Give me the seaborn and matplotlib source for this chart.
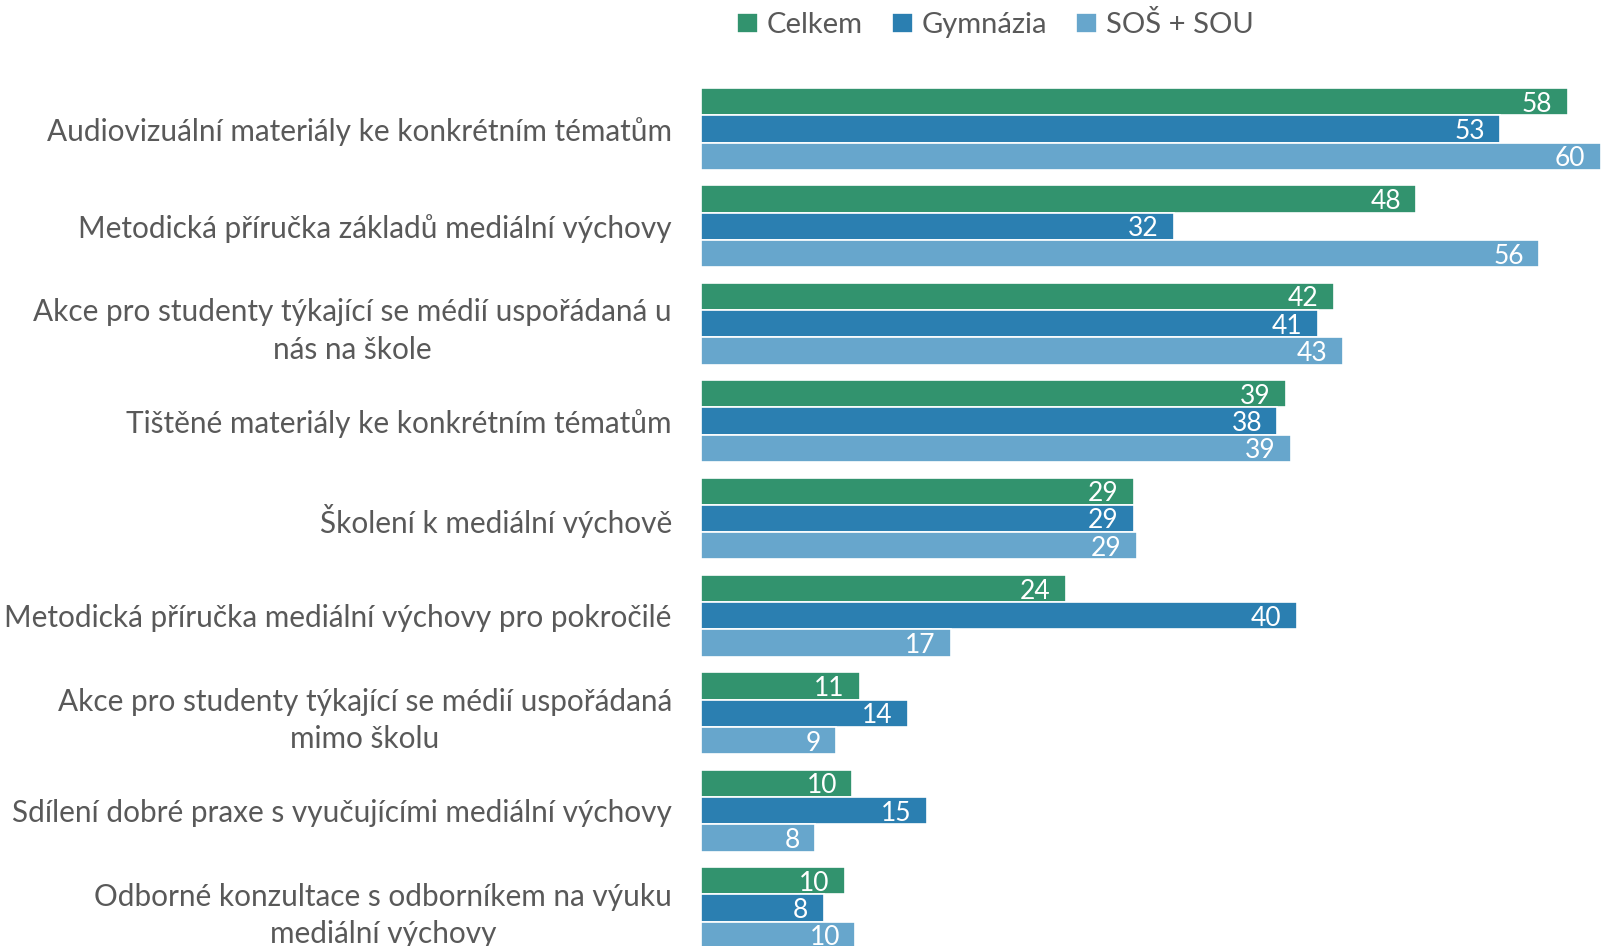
import pandas as pd
from matplotlib import pyplot as plt
import seaborn as sns
import numpy as np

# categories (top to bottom) and values
categories = ['Audiovizuální materiály ke konkrétním tématům',
              'Metodická příručka základů mediální výchovy',
              'Akce pro studenty týkající se médií uspořádaná u\nnás na škole',
              'Tištěné materiály ke konkrétním tématům',
              'Školení k mediální výchově',
              'Metodická příručka mediální výchovy pro pokročilé',
              'Akce pro studenty týkající se médií uspořádaná\nmimo školu',
              'Sdílení dobré praxe s vyučujícími mediální výchovy',
              'Odborné konzultace s odborníkem na výuku\nmediální výchovy']
groups = ['Celkem', 'Gymnázia', 'SOŠ + SOU']
celkem = [57.9, 47.8, 42.3, 39.1, 28.9, 24.4, 10.6, 10.1, 9.6]
gymnazia = [53.4, 31.6, 41.2, 38.5, 28.9, 39.8, 13.8, 15.1, 8.2]
sos_sou = [60.1, 56.0, 42.9, 39.4, 29.1, 16.7, 9.0, 7.6, 10.3]
colors = ['#32936e', '#2b7fb1', '#67a6cc']

df = pd.DataFrame({'kategorie': categories * 3,
                   'skupina': np.repeat(groups, len(categories)),
                   'hodnota': celkem + gymnazia + sos_sou})

sns.set_style("white")
plt.rcParams['font.family'] = ['Lato', 'DejaVu Sans']

fig = plt.figure(figsize=(16.02, 9.46), dpi=100)
ax = fig.add_axes([0.4376, 0.0, 0.5618, 1.0])

sns.barplot(data=df, y='kategorie', x='hodnota', hue='skupina', hue_order=groups,
            palette=colors, orient='h', width=0.84, edgecolor='white', linewidth=1.2,
            saturation=1, ax=ax, errorbar=None)

for c in ax.containers:
    texts = ax.bar_label(c, labels=[f'{v:.0f}' for v in c.datavalues], padding=-11,
                         color='white', fontsize=19)
    for t in texts:
        t.set_ha('right')
        t.set_va('center_baseline')

ax.set_xlim(0, 60.13)
ax.set_ylim(8.39, -1.324)
ax.set_xlabel('')
ax.set_ylabel('')
ax.set_xticks([])
ax.tick_params(axis='y', length=0, pad=21, labelsize=21.4, labelcolor='#595959')
for lab in ax.get_yticklabels():
    lab.set_multialignment('center')
    lab.set_linespacing(1.42)
for s in ax.spines.values():
    s.set_visible(False)

sns.move_legend(ax, 'center', bbox_to_anchor=(0.327, 0.974), ncol=3, frameon=False,
                title=None, fontsize=21, handlelength=0.72, handleheight=0.72,
                handletextpad=0.3, columnspacing=1.0, labelcolor='#595959')

plt.savefig('out.png', dpi=100)
